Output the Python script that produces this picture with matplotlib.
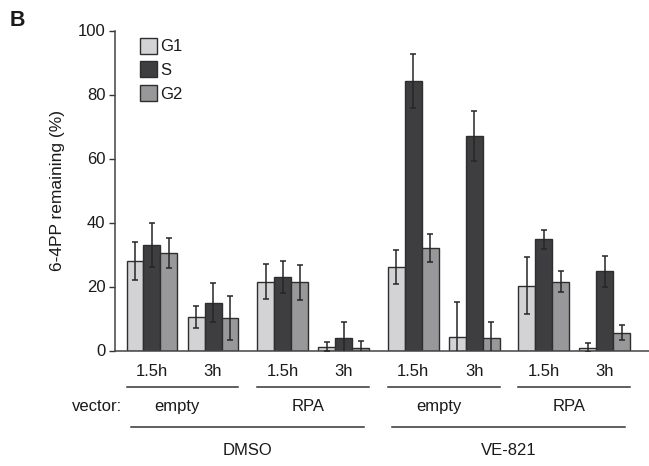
import numpy as np
import matplotlib
matplotlib.use("Agg")
import matplotlib.pyplot as plt
from matplotlib.patches import Patch

plt.rcParams['font.family'] = ['Liberation Sans', 'DejaVu Sans']

# data
phases = ["G1", "S", "G2"]
times = ["1.5h", "3h", "1.5h", "3h", "1.5h", "3h", "1.5h", "3h"]
vectors = ["empty", "RPA", "empty", "RPA"]
treatments = ["DMSO", "VE-821"]

g1 = [28.0, 10.5, 21.5, 1.2, 26.2, 4.1, 20.3, 0.9]
s = [33.0, 15.0, 23.0, 3.8, 84.3, 67.0, 34.7, 24.8]
g2 = [30.5, 10.2, 21.3, 0.9, 32.0, 3.8, 21.5, 5.6]
g1_err = [6.0, 3.5, 5.4, 1.5, 5.3, 11.2, 9.0, 1.35]
s_err = [7.0, 6.0, 5.0, 5.0, 8.5, 7.7, 3.0, 4.8]
g2_err = [4.7, 6.9, 5.4, 2.2, 4.3, 5.0, 3.2, 2.4]

colors = ["#d3d3d5", "#3e3e40", "#98989b"]
edge = "#2e2e2e"
txt = "#1a1a1a"
fs = 12

# group centres: pairs of time points, bar width = 1
centers = np.array([p * 7.7 + o for p in range(4) for o in (0.0, 3.6)])

fig = plt.figure(figsize=(6.49, 4.66), dpi=100)
ax = fig.add_axes([115 / 649, 1 - 350.5 / 466, 534 / 649, 320 / 466])

for k, (vals, errs) in enumerate(zip([g1, s, g2], [g1_err, s_err, g2_err])):
    x = centers + (k - 1)
    ax.bar(x, vals, width=1.0, color=colors[k], edgecolor=edge, linewidth=1.0, zorder=2)
    ax.errorbar(x, vals, yerr=errs, fmt="none", ecolor="#262626", elinewidth=1.1,
                capsize=2.5, capthick=1.1, zorder=3)

ax.set_ylim(0, 100)
ax.set_xlim(-2.18, 29.3)
ax.set_yticks([0, 20, 40, 60, 80, 100])
ax.tick_params(axis="y", labelsize=fs, length=4, width=1, colors="#333333", labelcolor=txt, pad=3)
ax.set_xticks(centers, times)
ax.tick_params(axis="x", length=0, labelsize=fs, labelcolor=txt, pad=10)
for sp in ["top", "right"]:
    ax.spines[sp].set_visible(False)
for sp in ["left", "bottom"]:
    ax.spines[sp].set_color("#444444")
    ax.spines[sp].set_linewidth(1.1)

ax.set_ylabel("6-4PP remaining (%)", fontsize=12.5, color=txt, labelpad=9)

# grouping lines and labels below the axis
tr = ax.get_xaxis_transform()
for p in range(4):
    a = centers[2 * p] - 1.5
    b = centers[2 * p + 1] + 1.5
    ax.plot([a, b], [-0.113, -0.113], color="#333333", lw=1.1, transform=tr, clip_on=False)
    ax.text((a + b) / 2 - 0.3, -0.176, vectors[p], transform=tr, ha="center", va="center",
            fontsize=fs, color=txt)
for t in range(2):
    a = centers[4 * t] - 1.5 + 0.25
    b = centers[4 * t + 3] + 1.5 - 0.3
    ax.plot([a, b], [-0.238, -0.238], color="#333333", lw=1.1, transform=tr, clip_on=False)
    ax.text((a + b) / 2, -0.311, treatments[t], transform=tr, ha="center", va="center",
            fontsize=fs, color=txt)
ax.text(-1.75, -0.176, "vector:", transform=tr, ha="right", va="center", fontsize=fs, color=txt)

handles = [Patch(facecolor=c, edgecolor=edge, linewidth=1.0) for c in colors]
ax.legend(handles, phases, loc="upper left", bbox_to_anchor=(0.0468, 0.977),
          frameon=False, borderpad=0, borderaxespad=0, handlelength=1.02, handleheight=1.08,
          handletextpad=0.2, labelspacing=0.42, fontsize=fs, labelcolor=txt)

fig.text(10 / 649, 1 - 20 / 466, "B", fontsize=15.5, fontweight="bold", va="center", ha="left",
         color=txt)

fig.savefig("out.png", dpi=100)
